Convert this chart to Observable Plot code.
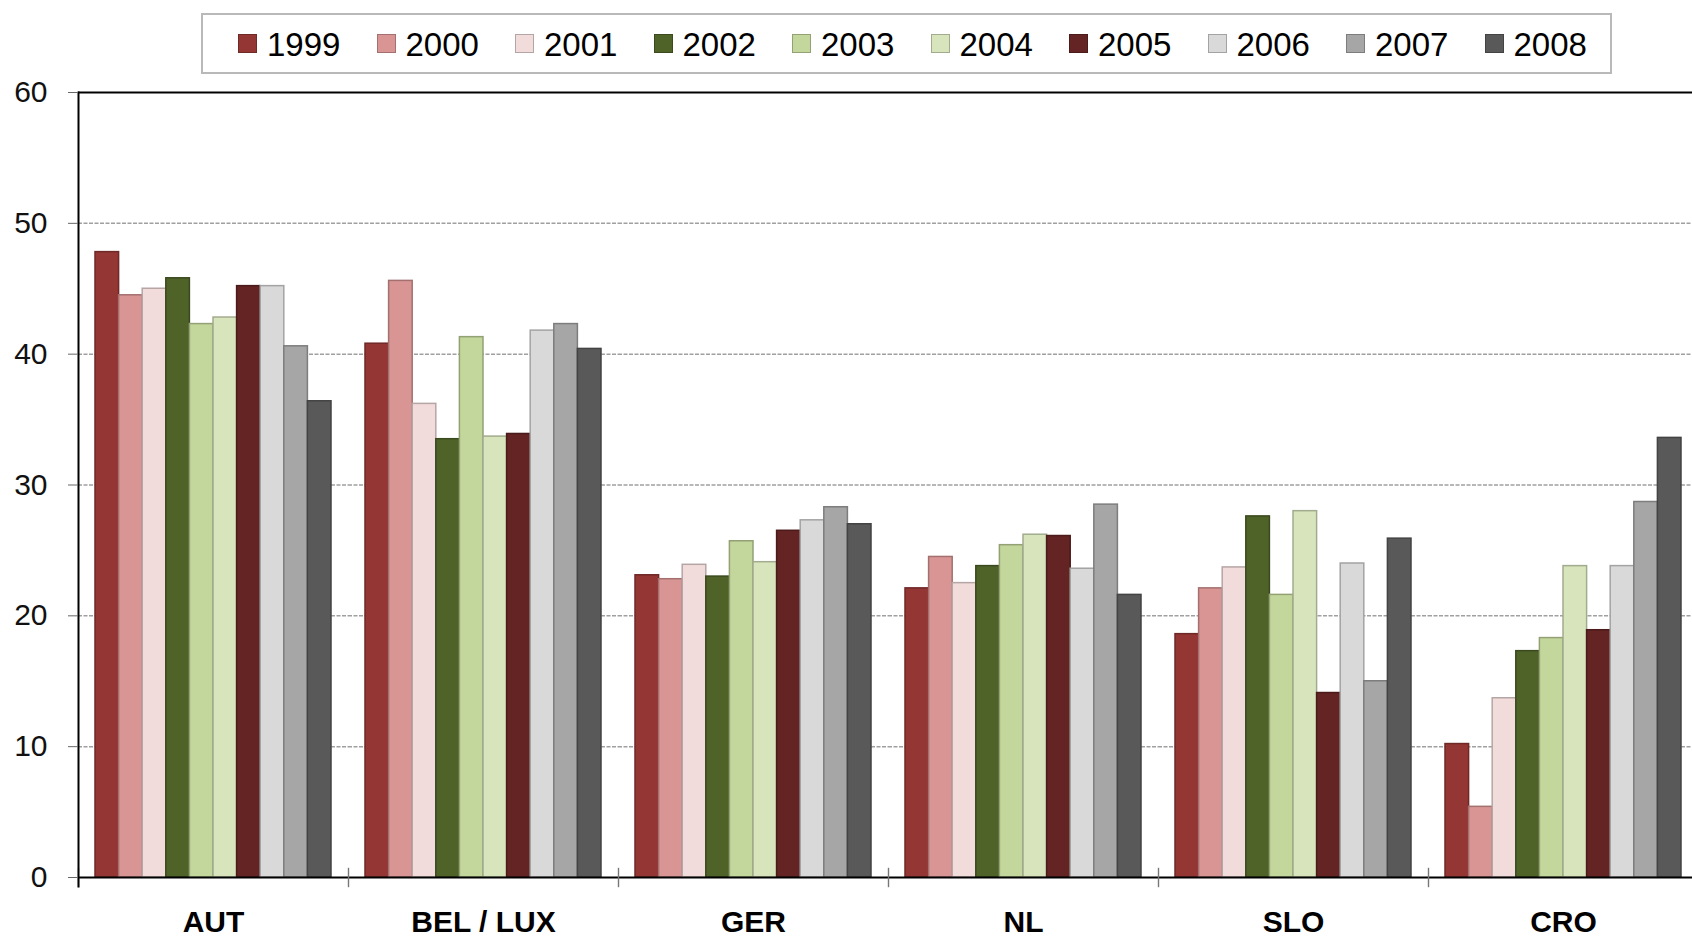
<!DOCTYPE html>
<html>
<head>
<meta charset="utf-8">
<script src="https://cdn.jsdelivr.net/npm/d3@7"></script>
<script src="https://cdn.jsdelivr.net/npm/@observablehq/plot@0.6"></script>
<style>
  html, body { margin: 0; padding: 0; background: #fff; overflow: hidden; }
  body { font-family: "Liberation Sans", Arial, sans-serif; }
  #wrap { position: relative; width: 1692px; height: 937px; overflow: hidden; }
  #chart { position: absolute; left: 0; top: 0; }
  #legend { position: absolute; left: 201px; top: 13px; width: 1407px; height: 57px;
            border: 2px solid #b9b9b9; background: #fff; box-sizing: content-box; }
  .item { position: absolute; top: 0; height: 57px; display: flex; align-items: center;
          font-size: 33px; color: #000; white-space: nowrap; }
  .sw { width: 17px; height: 17px; border: 1px solid; margin-right: 10px; }
  .lab { padding-top: 3px; }
</style>
</head>
<body>
<div id="wrap">
  <div id="chart"></div>
  <div id="legend"></div>
</div>
<script>
// ---- data ----
const countries = ["AUT", "BEL / LUX", "GER", "NL", "SLO", "CRO"];
const years = ["1999", "2000", "2001", "2002", "2003", "2004", "2005", "2006", "2007", "2008"];
const colors = ["#943634", "#d99594", "#f2dcdb", "#4f6228", "#c3d69b", "#d7e4bc", "#632423", "#d9d9d9", "#a6a6a6", "#595959"];

const AUT    = [47.8, 44.5, 45.0, 45.8, 42.3, 42.8, 45.2, 45.2, 40.6, 36.4];
const BELLUX = [40.8, 45.6, 36.2, 33.5, 41.3, 33.7, 33.9, 41.8, 42.3, 40.4];
const GER    = [23.1, 22.8, 23.9, 23.0, 25.7, 24.1, 26.5, 27.3, 28.3, 27.0];
const NL     = [22.1, 24.5, 22.5, 23.8, 25.4, 26.2, 26.1, 23.6, 28.5, 21.6];
const SLO    = [18.6, 22.1, 23.7, 27.6, 21.6, 28.0, 14.1, 24.0, 15.0, 25.9];
const CRO    = [10.2,  5.4, 13.7, 17.3, 18.3, 23.8, 18.9, 23.8, 28.7, 33.6];

const yTicks = [0, 10, 20, 30, 40, 50, 60];
const gridValues = [10, 20, 30, 40, 50];

// ---- table for Plot ----
const series = [AUT, BELLUX, GER, NL, SLO, CRO];
const strokeOf = c => d3.color(c).darker(0.8).formatHex();
const rows = [];
countries.forEach((country, ci) => {
  years.forEach((year, yi) => {
    rows.push({country, year, value: series[ci][yi], fill: colors[yi], stroke: strokeOf(colors[yi])});
  });
});

// The original chart continues slightly past the right edge of the picture;
// the SVG is a little wider and the wrapper clips it at 1692px.
const chart = Plot.plot({
  width: 1698,
  height: 937,
  marginLeft: 78,
  marginRight: 0,
  marginTop: 92,
  marginBottom: 60,
  facet: {marginTop: 0, marginRight: 0, marginBottom: 0, marginLeft: 0},
  fx: {domain: countries, padding: 0, round: false, label: null},
  x: {domain: years, paddingInner: 0, paddingOuter: 0.72, round: false, axis: null},
  y: {domain: [0, 60], label: null},
  color: {type: "identity"},
  style: {fontFamily: "'Liberation Sans', Arial, sans-serif", color: "#000", background: "white", maxWidth: "none"},
  marks: [
    Plot.ruleY(gridValues, {stroke: "#a0a0a0", strokeWidth: 1.5, strokeDasharray: "4,1.5"}),
    Plot.barY(rows, {fx: "country", x: "year", y: "value", fill: "fill", stroke: "stroke", strokeWidth: 1.5}),
    Plot.ruleY([0], {stroke: "#000", strokeWidth: 2}),
    Plot.ruleY([60], {stroke: "#000", strokeWidth: 2}),
    // boundary ticks between country groups
    Plot.frame({anchor: "left", insetTop: 776, insetBottom: -9, stroke: "#777", strokeWidth: 1.4}),
    // left value axis line (first group only)
    Plot.frame({anchor: "left", insetBottom: -9, stroke: "#000", strokeWidth: 2, fx: () => countries[0]}),
    Plot.axisY({ticks: yTicks, tickSize: 10, tickPadding: 21, fontSize: 30, label: null, stroke: "#666", fill: "#111"}),
    Plot.axisFx({anchor: "bottom", tickSize: 0, tickPadding: 33, fontSize: 30, fontWeight: "bold", label: null, fill: "#000"})
  ]
});
document.getElementById("chart").appendChild(chart);

// ---- legend ----
const legend = d3.select("#legend");
years.forEach((y, i) => {
  const item = legend.append("div").attr("class", "item").style("left", (35 + i * 138.5) + "px");
  item.append("div").attr("class", "sw")
    .style("background", colors[i]).style("border-color", strokeOf(colors[i]));
  item.append("span").attr("class", "lab").text(y);
});
</script>
</body>
</html>
